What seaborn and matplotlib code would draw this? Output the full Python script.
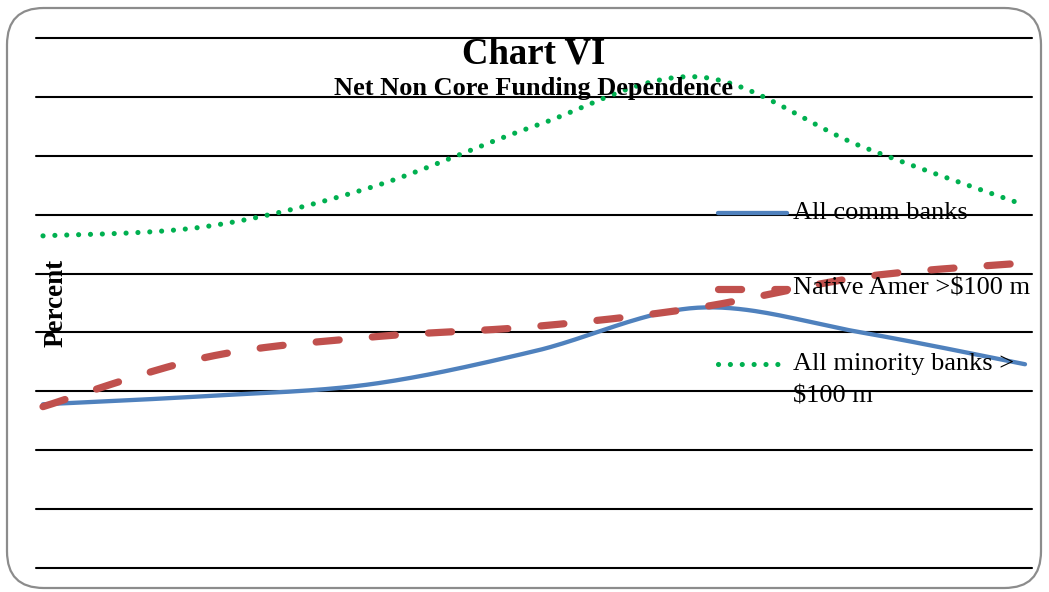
import numpy as np
import pandas as pd
import matplotlib
matplotlib.use("Agg")
import matplotlib.pyplot as plt
from matplotlib.patches import FancyBboxPatch
from matplotlib.lines import Line2D
import seaborn as sns

# Observation periods (evenly spaced) and the three series, in percent
periods = [0, 1, 2, 3, 4, 5, 6]
all_comm_banks = [13.9, 14.6, 15.6, 18.4, 22.1, 20.0, 17.3]
native_amer_100m = [13.7, 17.9, 19.6, 20.5, 22.1, 24.7, 25.9]
all_minority_100m = [28.2, 29.0, 32.3, 37.5, 41.7, 35.8, 30.8]
series_labels = ["All comm banks", "Native Amer >$100 m", "All minority banks >\n$100 m"]
grid_levels = [0, 5, 10, 15, 20, 25, 30, 35, 40, 45]


def smooth(xs, ys, steps=40):
    """Smoothed line through the points (cubic Bezier segments, Catmull-Rom tangents)."""
    p = np.column_stack([xs, ys]).astype(float)
    p = np.vstack([p[0], p, p[-1]])
    out = []
    for i in range(1, len(p) - 2):
        p0, p1, p2, p3 = p[i - 1], p[i], p[i + 1], p[i + 2]
        c1 = p1 + (p2 - p0) / 6.0
        c2 = p2 - (p3 - p1) / 6.0
        t = np.linspace(0, 1, steps, endpoint=(i == len(p) - 3))[:, None]
        seg = ((1 - t) ** 3) * p1 + 3 * ((1 - t) ** 2) * t * c1 + 3 * (1 - t) * t ** 2 * c2 + t ** 3 * p2
        out.append(seg)
    out = np.vstack(out)
    return out[:, 0], out[:, 1]


sns.set_theme(style="white")
plt.rcParams["font.family"] = ["Liberation Serif", "DejaVu Serif"]

fig = plt.figure(figsize=(10.49, 5.92), dpi=100)
fig.patch.set_facecolor("white")

# rounded outer frame
frame = FancyBboxPatch((7 / 1049, 4 / 592), 1034 / 1049, 580 / 592,
                       boxstyle="round,pad=0,rounding_size=0.035",
                       transform=fig.transFigure, facecolor="none",
                       edgecolor="#8c8c8c", linewidth=1.6, mutation_aspect=1049 / 592,
                       zorder=0)
fig.patches.append(frame)

ax = fig.add_axes([36 / 1049, 1 - 568 / 592, 996 / 1049, 530 / 592])
ax.set_facecolor("none")
ax.set_zorder(2)

colors = ["#4F81BD", "#C0504D", "#00B050"]
styles = [
    dict(linewidth=3.1, solid_capstyle="round"),
    dict(linewidth=5.2, dashes=(3.2, 4.6), dash_capstyle="round"),
    dict(linewidth=3.7, dashes=(0.01, 2.3), dash_capstyle="round"),
]

for yv in grid_levels:
    ax.axhline(yv, color="black", linewidth=1.5, zorder=1, clip_on=False)

for vals, col, st in zip([all_comm_banks, native_amer_100m, all_minority_100m], colors, styles):
    sx, sy = smooth(periods, vals)
    df = pd.DataFrame({"period": sx, "value": sy})
    sns.lineplot(data=df, x="period", y="value", sort=False, color=col, ax=ax,
                 zorder=3, **st)

pad = 7 / 163.7
ax.set_xlim(periods[0] - pad, periods[-1] + pad)
ax.set_ylim(grid_levels[0], grid_levels[-1])
ax.set_xticks([])
ax.set_yticks([])
ax.set_xlabel("")
ax.set_ylabel("")
for s in ax.spines.values():
    s.set_visible(False)

# legend entries at the right of the plot
leg_y = [213, 289, 364]
for lab, col, st, ypx in zip(series_labels, colors, styles, leg_y):
    yf = 1 - ypx / 592
    ln = Line2D([718 / 1049, 787 / 1049], [yf, yf], transform=fig.transFigure,
                color=col, zorder=4, **st)
    fig.lines.append(ln)
    lines = lab.split("\n")
    fig.text(793 / 1049, yf, lines[0], ha="left", va="center", fontsize=19,
             color="black", zorder=5)
    if len(lines) > 1:
        fig.text(793 / 1049, 1 - 396 / 592, lines[1], ha="left", va="center",
                 fontsize=19, color="black", zorder=5)

fig.text(534 / 1049, 1 - 64 / 592, "Chart VI", ha="center", va="baseline",
         fontsize=26.5, fontweight="bold", color="black", zorder=5)
fig.text(534 / 1049, 1 - 95 / 592, "Net Non Core Funding Dependence", ha="center",
         va="baseline", fontsize=19, fontweight="bold", color="black", zorder=5)
fig.text(56 / 1049, 1 - 303 / 592, "Percent", ha="center", va="center", rotation=90,
         fontsize=19.5, fontweight="bold", color="black", zorder=5)

fig.savefig("out.png", dpi=100, facecolor="white")
